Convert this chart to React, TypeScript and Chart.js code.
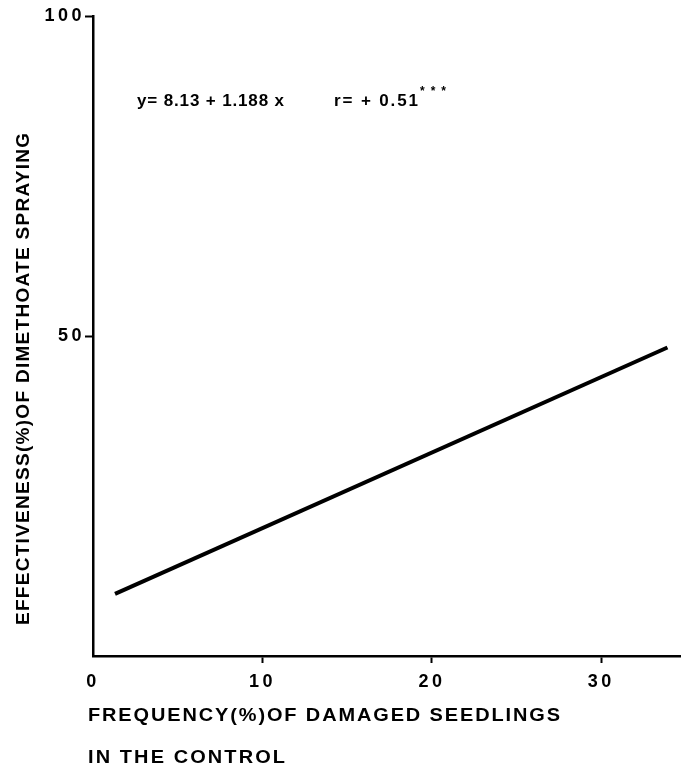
import React, { useEffect, useRef } from "react";
import { Chart, registerables } from "chart.js";

Chart.register(...registerables);

// ---- data ----
const lineX = [1.3, 33.9];
const lineY = [9.7, 48.2];
const xTicks = [0, 10, 20, 30];
const yTicks = [50, 100];
const xMin = 0;
const xMax = 34.7;
const yMin = 0;
const yMax = 100;
const xTitle = ["FREQUENCY(%)OF DAMAGED SEEDLINGS", "IN THE CONTROL"];
const yTitle = "EFFECTIVENESS(%)OF DIMETHOATE SPRAYING";
const equation = "y= 8.13 + 1.188 x";
const corr = "r= + 0.51";
const signif = "***";

const FAMILY = "'Liberation Sans', Arial, Helvetica, sans-serif";

function drawSpaced(
  ctx: CanvasRenderingContext2D,
  text: string,
  x: number,
  y: number,
  width: number,
  font: string,
  stretch = 1
) {
  ctx.save();
  ctx.translate(x, y);
  ctx.scale(stretch, 1);
  ctx.font = font;
  (ctx as any).letterSpacing = "0px";
  const w = ctx.measureText(text).width;
  const n = Array.from(text).length;
  const ls = n > 1 ? (width / stretch - w) / (n - 1) : 0;
  (ctx as any).letterSpacing = ls + "px";
  ctx.textAlign = "left";
  ctx.textBaseline = "middle";
  ctx.fillStyle = "#000";
  ctx.fillText(text, 0, 0);
  ctx.restore();
}

const textPlugin = {
  id: "textPlugin",
  beforeUpdate(chart: any) {
    (chart.ctx as any).letterSpacing = "3.5px";
  },
  beforeDraw(chart: any) {
    (chart.ctx as any).letterSpacing = "3.5px";
  },
  afterDraw(chart: any) {
    const ctx: CanvasRenderingContext2D = chart.ctx;
    const f19 = `bold 19px ${FAMILY}`;
    drawSpaced(ctx, xTitle[0], 88, 716, 472, f19, 1.05);
    drawSpaced(ctx, xTitle[1], 88, 758, 197, f19, 1.05);
    ctx.save();
    ctx.translate(24, 625);
    ctx.rotate(-Math.PI / 2);
    drawSpaced(ctx, yTitle, 0, 0, 492, `bold 19px ${FAMILY}`, 1.0);
    ctx.restore();
    const f17 = `bold 17px ${FAMILY}`;
    drawSpaced(ctx, equation, 137, 101, 147, f17);
    drawSpaced(ctx, corr, 334, 101, 84, f17);
    drawSpaced(ctx, signif, 420, 92, 26, `bold 12px ${FAMILY}`);
  },
};

export default function App() {
  const ref = useRef<HTMLCanvasElement | null>(null);

  useEffect(() => {
    if (!ref.current) return;
    const chart = new Chart(ref.current, {
      type: "line",
      data: {
        datasets: [
          {
            data: lineX.map((x, i) => ({ x, y: lineY[i] })),
            borderColor: "#000",
            borderWidth: 4,
            pointRadius: 0,
            fill: false,
          },
        ],
      },
      options: {
        animation: false,
        responsive: false,
        devicePixelRatio: 1,
        layout: { padding: { top: 16, left: 0, right: 0, bottom: 0 } },
        plugins: {
          legend: { display: false },
          tooltip: { enabled: false },
        },
        scales: {
          x: {
            type: "linear",
            min: xMin,
            max: xMax,
            afterBuildTicks: (scale: any) => {
              scale.ticks = xTicks.map((v) => ({ value: v }));
            },
            afterFit: (scale: any) => {
              scale.height = 116;
            },
            border: { display: true, color: "#000", width: 2.5 },
            grid: {
              drawOnChartArea: false,
              drawTicks: true,
              tickLength: 7,
              tickWidth: 2,
              tickColor: (c: any) =>
                c.tick && c.tick.value === 0 ? "rgba(0,0,0,0)" : "#000",
            },
            ticks: {
              color: "#000",
              padding: 8,
              maxRotation: 0,
              autoSkip: false,
              font: { family: FAMILY, size: 18, weight: "bold" },
            },
          },
          y: {
            type: "linear",
            min: yMin,
            max: yMax,
            afterBuildTicks: (scale: any) => {
              scale.ticks = yTicks.map((v) => ({ value: v }));
            },
            afterFit: (scale: any) => {
              scale.width = 93;
            },
            border: { display: true, color: "#000", width: 2.5 },
            grid: {
              drawOnChartArea: false,
              drawTicks: true,
              tickLength: 8,
              tickWidth: 2,
              tickColor: "#000",
            },
            ticks: {
              color: "#000",
              padding: 0,
              autoSkip: false,
              font: { family: FAMILY, size: 18, weight: "bold" },
            },
          },
        },
      } as any,
      plugins: [textPlugin],
    });
    return () => chart.destroy();
  }, []);

  return (
    <div
      style={{
        position: "absolute",
        left: 0,
        top: 0,
        width: 681,
        height: 772,
        background: "#fff",
      }}
    >
      <canvas
        ref={ref}
        width={681}
        height={772}
        style={{ width: 681, height: 772, display: "block" }}
      />
    </div>
  );
}
